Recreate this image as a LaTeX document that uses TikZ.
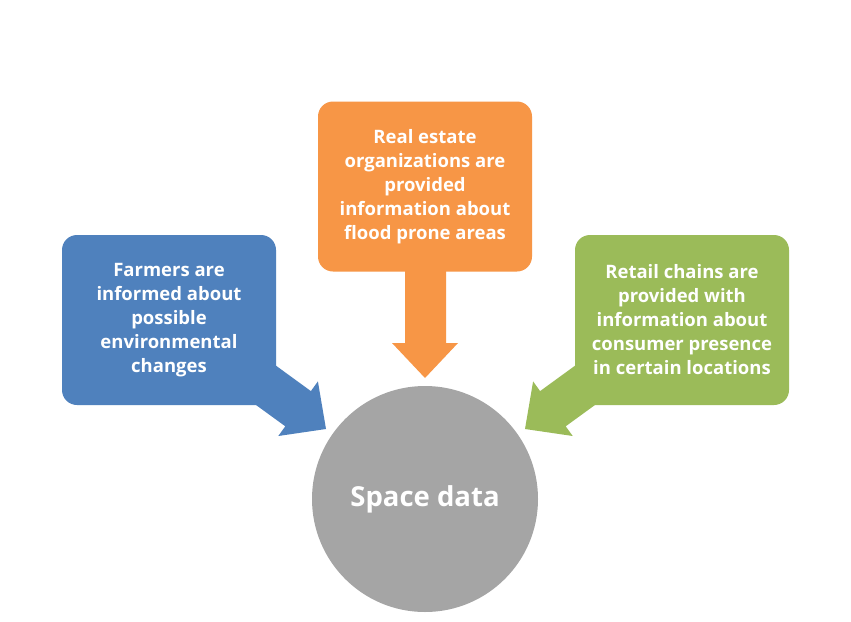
\documentclass[tikz,border=0pt]{standalone}
\usepackage{fontspec}
\setmainfont{Open Sans}
\definecolor{cblue}{HTML}{4F81BD}
\definecolor{corange}{HTML}{F79646}
\definecolor{cgreen}{HTML}{9BBB59}
\definecolor{cgray}{HTML}{A5A5A5}
\tikzset{
  callbox/.style={rounded corners=15pt, minimum width=214pt, minimum height=170pt, inner sep=0pt,
    text=white, font=\fontsize{18.5}{24}\selectfont\bfseries, align=center},
  hub/.style={circle, fill=cgray, minimum size=226pt, inner sep=0pt, text=white,
    font=\fontsize{27.5}{32}\selectfont\bfseries}
}
\begin{document}
\begin{tikzpicture}[x=1pt,y=-1pt]
\useasboundingbox[fill=white] (0,0) rectangle (851,621);
\fill[cblue] (262.4,355.8) -- (310.9,391.1) -- (317.9,381.4) -- (326,429) -- (278.3,436.0) -- (285.3,426.3) -- (236.8,391.0) -- cycle;
\fill[cgreen] (588.6,355.8) -- (540.1,391.1) -- (533.1,381.4) -- (525,429) -- (572.7,436.0) -- (565.7,426.3) -- (614.2,391.0) -- cycle;
\fill[corange] (405,250) -- (405,343) -- (392,343) -- (425,378) -- (458,343) -- (446,343) -- (446,250) -- cycle;
\node[hub] (hub) at (425,499) {Space data};
\node[callbox, fill=cblue] (farm) at (169,320) {Farmers are\\informed about\\possible\\environmental\\changes};
\node[callbox, fill=corange] (real) at (425,186.5) {Real estate\\organizations are\\provided\\information about\\flood prone areas};
\node[callbox, fill=cgreen] (retail) at (682,320) {Retail chains are\\provided with\\information about\\consumer presence\\in certain locations};
\end{tikzpicture}
\end{document}
